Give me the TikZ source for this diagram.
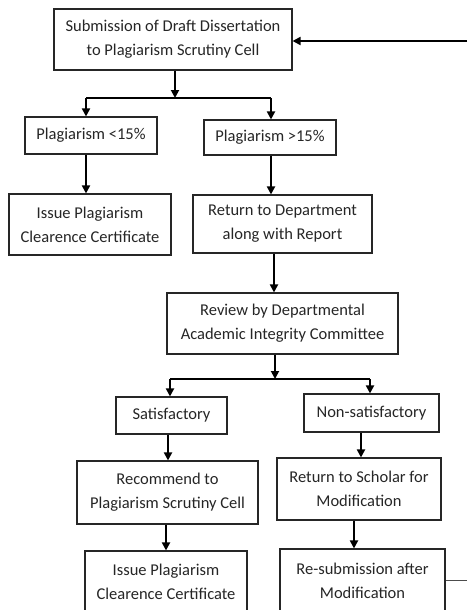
\documentclass[tikz,border=0pt]{standalone}
\usepackage{fontspec}
\setmainfont{Carlito}
\usetikzlibrary{arrows.meta}
\begin{document}
\begin{tikzpicture}[x=1pt,y=-1pt,
  box/.style={draw=black!85,line width=1.1pt,align=center,inner sep=0pt,
    font=\fontsize{16.5}{24}\selectfont,text=black!85},
  arr/.style={line width=1.8pt,-{Triangle[length=8pt,width=8pt]}},
  ln/.style={line width=1.8pt}]
\useasboundingbox (0,0) rectangle (467,610);
\clip (0,0) rectangle (467,610);
\fill[white] (0,0) rectangle (467,610);
\node[box,minimum width=238pt,minimum height=61pt] (b1) at (173,39.5) {Submission of Draft Dissertation\\to Plagiarism Scrutiny Cell};
\node[box,minimum width=132pt,minimum height=37pt] (p1) at (91,135.5) {Plagiarism <15\%};
\node[box,minimum width=132pt,minimum height=35pt] (p2) at (270,137.5) {Plagiarism >15\%};
\node[box,minimum width=162pt,minimum height=61pt] (i1) at (90,224.5) {Issue Plagiarism\\Clearence Certificate};
\node[box,minimum width=179pt,minimum height=58pt] (r1) at (282.5,224) {Return to Department\\along with Report};
\node[box,minimum width=231pt,minimum height=61pt] (rv) at (282.5,323.5) {Review by Departmental\\Academic Integrity Committee};
\node[box,minimum width=111pt,minimum height=37pt] (s) at (171.5,415.5) {Satisfactory};
\node[box,minimum width=135pt,minimum height=38pt] (ns) at (371.5,413) {Non-satisfactory};
\node[box,minimum width=181pt,minimum height=63pt] (rc) at (167.5,492.5) {Recommend to\\Plagiarism Scrutiny Cell};
\node[box,minimum width=164pt,minimum height=62pt] (rs) at (359,489) {Return to Scholar for\\Modification};
\node[box,minimum width=162pt,minimum height=62pt] (i2) at (166,582) {Issue Plagiarism\\Clearence Certificate};
\node[box,minimum width=165pt,minimum height=63pt] (re) at (362.5,580.5) {Re-submission after\\Modification};
% coordinates
\coordinate (j1) at (175,98);
\coordinate (j2) at (275,379);
\coordinate (xa) at (86,0);
\coordinate (xb) at (271,0);
\coordinate (xc) at (274,0);
\coordinate (xd) at (170,0);
\coordinate (xe) at (370,0);
\coordinate (xf) at (168,0);
\coordinate (xg) at (361,0);
\coordinate (xh) at (166,0);
\coordinate (xi) at (354,0);
\coordinate (e1) at (467,41);
\coordinate (e2) at (467,580);
% connectors
\draw[arr] (b1.south -| j1) -- (j1);
\draw[ln] (j1 -| xa) -- (j1 -| xb);
\draw[arr] (j1 -| xa) -- (p1.north -| xa);
\draw[arr] (j1 -| xb) -- (p2.north -| xb);
\draw[arr] (p1.south -| xa) -- (i1.north -| xa);
\draw[arr] (p2.south -| xb) -- (r1.north -| xb);
\draw[arr] (r1.south -| xc) -- (rv.north -| xc);
\draw[arr] (rv.south -| j2) -- (j2);
\draw[ln] (j2 -| xd) -- (j2 -| xe);
\draw[arr] (j2 -| xd) -- (s.north -| xd);
\draw[arr] (j2 -| xe) -- (ns.north -| xe);
\draw[arr] (s.south -| xf) -- (rc.north -| xf);
\draw[arr] (ns.south -| xg) -- (rs.north -| xg);
\draw[arr] (rc.south -| xh) -- (i2.north -| xh);
\draw[arr] (rs.south -| xi) -- (re.north -| xi);
\draw[line width=1pt,black!70] (re.east |- e2) -- (e2);
\draw[arr] (e1) -- (b1.east |- e1);
\end{tikzpicture}
\end{document}
